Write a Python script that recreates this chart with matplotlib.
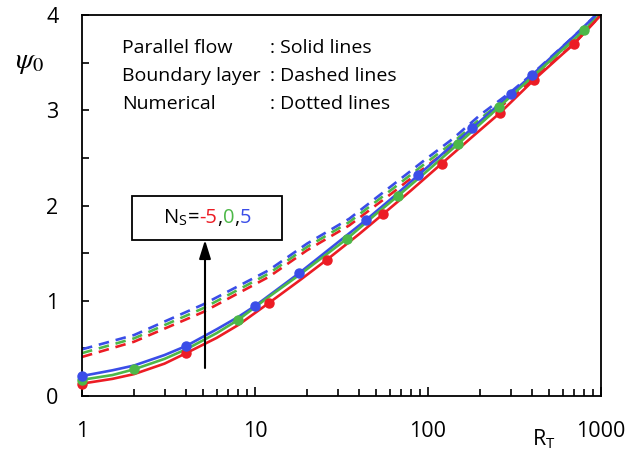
import matplotlib
matplotlib.use("Agg")
import matplotlib.pyplot as plt
from matplotlib.ticker import FixedLocator, NullFormatter, FuncFormatter, LogLocator
import numpy as np

plt.rcParams['font.family'] = ['Open Sans', 'DejaVu Sans']
plt.rcParams['mathtext.fontset'] = 'stix'

# ---- data ----
R_pf_red = [1, 1.5, 2, 3, 4, 6, 8, 12, 18, 26, 40, 55, 80, 120, 180, 260, 410, 700, 1000]
pf_red   = [0.13, 0.18, 0.23, 0.34, 0.45, 0.61, 0.745, 0.975, 1.21, 1.43, 1.70, 1.91, 2.16, 2.44, 2.72, 2.97, 3.32, 3.70, 4.00]
R_pf_green = [1, 1.5, 2, 3, 4, 6, 8, 12, 18, 34, 50, 67, 100, 150, 256, 400, 800, 1000]
pf_green   = [0.17, 0.22, 0.28, 0.39, 0.49, 0.66, 0.80, 1.04, 1.27, 1.65, 1.91, 2.10, 2.37, 2.65, 3.03, 3.35, 3.84, 4.01]
R_pf_blue = [1, 1.5, 2, 3, 4, 6, 8, 10, 18, 30, 44, 65, 88, 130, 180, 300, 400, 700, 1000]
pf_blue   = [0.21, 0.27, 0.32, 0.43, 0.525, 0.70, 0.83, 0.945, 1.29, 1.61, 1.85, 2.11, 2.32, 2.59, 2.81, 3.17, 3.37, 3.78, 4.05]

R_bl = [1, 2, 5, 12, 20, 35, 63, 93, 139, 200, 300, 400, 700, 1000]
bl_red   = [0.41, 0.57, 0.88, 1.25, 1.53, 1.79, 2.14, 2.38, 2.62, 2.87, 3.12, 3.32, 3.70, 4.00]
bl_green = [0.45, 0.605, 0.92, 1.285, 1.565, 1.825, 2.18, 2.42, 2.66, 2.91, 3.16, 3.35, 3.74, 4.02]
bl_blue  = [0.49, 0.64, 0.96, 1.32, 1.60, 1.86, 2.22, 2.46, 2.70, 2.95, 3.19, 3.38, 3.78, 4.05]

R_num_red   = [1, 4, 12, 26, 55, 120, 260, 410, 700]
num_red     = [0.13, 0.45, 0.975, 1.43, 1.91, 2.44, 2.97, 3.32, 3.70]
R_num_green = [1, 2, 8, 34, 67, 150, 256, 800]
num_green   = [0.17, 0.28, 0.80, 1.65, 2.10, 2.65, 3.03, 3.84]
R_num_blue  = [1, 4, 10, 18, 44, 88, 180, 300, 400]
num_blue    = [0.21, 0.525, 0.945, 1.29, 1.85, 2.32, 2.81, 3.17, 3.37]

x_ticks = [1, 10, 100, 1000]
y_ticks = [0, 1, 2, 3, 4]

RED = '#ec1c24'
GREEN = '#4db848'
BLUE = '#3a4de8'

fig = plt.figure(figsize=(6.38, 4.5), dpi=100)
ax = fig.add_axes([82/638, 54/450, 519/638, 381/450])
ax.set_xscale('log')
ax.set_xlim(1, 1000)
ax.set_ylim(0, 4)

lw = 1.9
for v, c in [(bl_red, RED), (bl_green, GREEN), (bl_blue, BLUE)]:
    ax.plot(R_bl, v, color=c, lw=lw, ls=(0, (4, 2.6)))
for R, v, c in [(R_pf_blue, pf_blue, BLUE), (R_pf_green, pf_green, GREEN), (R_pf_red, pf_red, RED)]:
    ax.plot(R, v, color=c, lw=lw)
for R, v, c in [(R_num_red, num_red, RED), (R_num_green, num_green, GREEN), (R_num_blue, num_blue, BLUE)]:
    ax.plot(R, v, ls='none', marker='o', ms=6.5, color=c, clip_on=False, zorder=5)

ax.xaxis.set_major_locator(FixedLocator(x_ticks))
ax.xaxis.set_major_formatter(FuncFormatter(lambda v, p: f"{v:g}"))
ax.xaxis.set_minor_locator(LogLocator(base=10, subs=np.arange(2, 10)))
ax.xaxis.set_minor_formatter(NullFormatter())
ax.yaxis.set_major_locator(FixedLocator(y_ticks))
ax.yaxis.set_minor_locator(FixedLocator([0.5, 1.5, 2.5, 3.5]))
ax.tick_params(axis='both', which='both', direction='in', top=False, right=False, width=1.2, labelsize=15.5)
ax.tick_params(axis='x', which='major', length=6.5, pad=18)
ax.tick_params(axis='x', which='minor', length=5)
ax.tick_params(axis='y', which='both', length=5, pad=17)
for s in ax.spines.values():
    s.set_linewidth(1.3)

fig.text(29/638, 1 - 62/450, r'$\psi_0$', fontsize=21, ha='center', va='center')
fig.text(544/638, 1 - 438/450, r'R$_\mathregular{T}$', fontsize=15.5, ha='center', va='center')

ty = [48, 76, 104]
lefts = ['Parallel flow', 'Boundary layer', 'Numerical']
rights = [': Solid lines', ': Dashed lines', ': Dotted lines']
for y, l, r in zip(ty, lefts, rights):
    fig.text(122/638, 1 - y/450, l, fontsize=14, ha='left', va='center')
    fig.text(270/638, 1 - y/450, r, fontsize=14, ha='left', va='center')

# N_S box
bx0, bx1, by0, by1 = 132, 282, 196, 240
fig.patches.append(plt.Rectangle((bx0/638, 1 - by1/450), (bx1-bx0)/638, (by1-by0)/450,
                                 transform=fig.transFigure, fill=True, facecolor='white',
                                 edgecolor='black', lw=1.3, zorder=6))
parts = [(r'N$_\mathregular{S}$=', 'black'), ('-5', RED), (',', 'black'), ('0', GREEN), (',', 'black'), ('5', BLUE)]
fig.canvas.draw()
renderer = fig.canvas.get_renderer()
texts = []
for s, c in parts:
    t = fig.text(0, 0, s, fontsize=14.5, color=c, ha='left', va='center', zorder=7)
    texts.append(t)
widths = [t.get_window_extent(renderer).width for t in texts]
total = sum(widths)
x = (bx0 + bx1) / 2 - total / 2
for t, w in zip(texts, widths):
    t.set_position((x/638, 1 - 218/450))
    x += w

ax.annotate('', xy=(205/638, 1 - 240/450), xycoords='figure fraction',
            xytext=(205/638, 1 - 368/450), textcoords='figure fraction',
            arrowprops=dict(arrowstyle='-|>,head_length=0.8,head_width=0.25', color='black',
                            lw=1.5, mutation_scale=14, shrinkA=0, shrinkB=0))

fig.savefig('out.png', dpi=100)
